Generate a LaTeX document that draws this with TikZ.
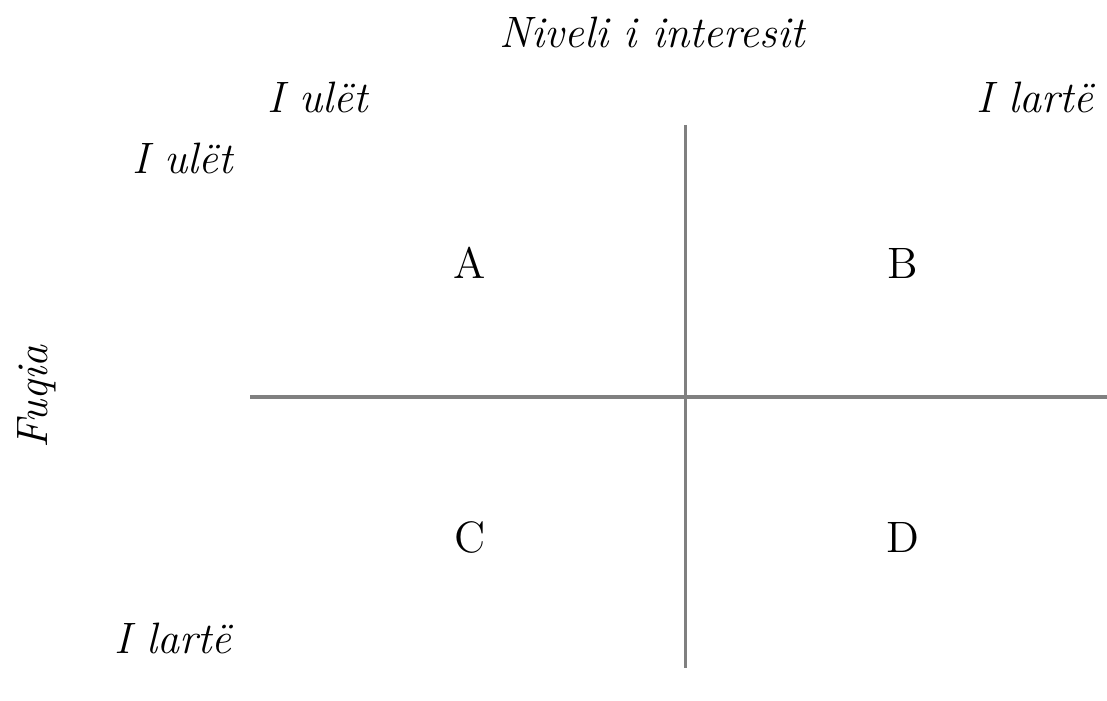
\documentclass[tikz,border=0pt]{standalone}
\usepackage{fontspec}
\tikzset{
  axlabel/.style={draw=none, fill=none, black, font=\fontsize{12.5}{15}\selectfont\itshape},
  cell/.style={draw=none, fill=none, black, font=\fontsize{12.5}{15}\selectfont},
  vline/.style={line width=0.85pt, draw=black!50},
  hline/.style={line width=1.4pt, draw=black!50},
}
\begin{document}
\begin{tikzpicture}[x=0.01cm, y=-0.01cm]
\useasboundingbox (0,0) rectangle (1107,701);
\coordinate (vtop) at (685,125);
\coordinate (vbot) at (685,668);
\coordinate (hleft) at (250,397);
\coordinate (hright) at (1107,397);
\draw[vline] (vtop) -- (vbot);
\draw[hline] (hleft) -- (hright);
\node[axlabel] (title) at (652,32) {Niveli i interesit};
\node[axlabel] (lowtop) at (318,97) {I ulët};
\node[axlabel] (hightop) at (1035,97) {I lartë};
\node[axlabel] (lowleft) at (183,158) {I ulët};
\node[axlabel] (highleft) at (173,638) {I lartë};
\node[axlabel, rotate=90] (power) at (37,397) {Fuqia};
\node[cell] (qa) at (470,263) {A};
\node[cell] (qb) at (903,263) {B};
\node[cell] (qc) at (470,537) {C};
\node[cell] (qd) at (903,537) {D};
\end{tikzpicture}
\end{document}
